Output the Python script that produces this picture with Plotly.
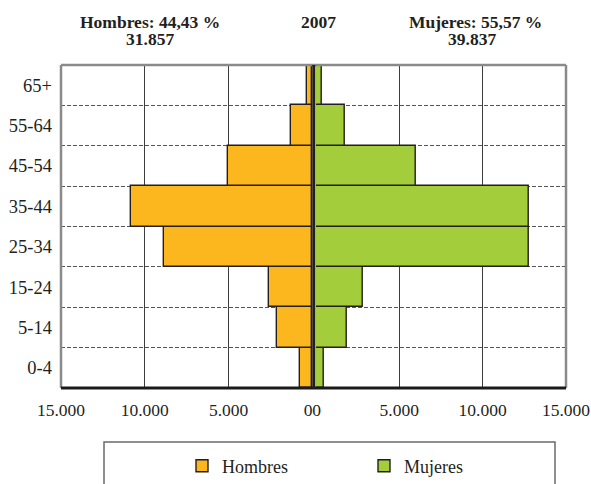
import plotly.graph_objects as go

ages = ["0-4", "5-14", "15-24", "25-34", "35-44", "45-54", "55-64", "65+"]
hombres = [720, 2110, 2590, 8850, 10800, 5060, 1300, 320]
mujeres = [470, 1850, 2840, 12790, 12790, 6020, 1760, 370]

x_tickvals = [0, 5000, 10000, 15000]
x_ticktext_left = ["0\u00a0\u00a0", "5.000", "10.000", "15.000"]
x_ticktext_right = ["\u200a0", "5.000", "10.000", "15.000"]

title_left = ["Hombres: 44,43 %", "31.857"]
title_mid = "2007"
title_right = ["Mujeres: 55,57 %", "39.837"]

C_H = "#FDB71E"
C_M = "#A3CD3A"
OUT = "#231F20"
FONT = "Liberation Serif"

W, H = 591, 484
ML, MR, MT, MB = 61, 25, 65, 96
PW = W - ML - MR
PH = H - MT - MB

def px_x(p):
    return (p - ML) / PW

def px_y(p):
    return (H - MB - p) / PH

ypos = list(range(len(ages)))

fig = go.Figure()
fig.add_trace(go.Bar(
    x=hombres, y=ypos, orientation="h", name="Hombres",
    marker=dict(color=C_H, line=dict(color=OUT, width=1.4)),
    xaxis="x", yaxis="y", width=1.0,
))
fig.add_trace(go.Bar(
    x=mujeres, y=ypos, orientation="h", name="Mujeres",
    marker=dict(color=C_M, line=dict(color=OUT, width=1.4)),
    xaxis="x2", yaxis="y", width=1.0,
))

d_left = px_x(312.4)
d_right = px_x(315.9)

common_x = dict(
    tickvals=x_tickvals, showgrid=True, gridcolor="#3c3c3c", gridwidth=1,
    zeroline=False, showline=False, ticks="",
    tickfont=dict(family=FONT, size=17.5, color="#231F20"),
    ticklabelstandoff=9, fixedrange=True, automargin=False,
)

fig.update_layout(
    width=W, height=H,
    margin=dict(l=ML, r=MR, t=MT, b=MB, pad=0, autoexpand=False),
    paper_bgcolor="white", plot_bgcolor="white",
    barmode="overlay", bargap=0,
    font=dict(family=FONT, size=17, color="#231F20"),
    xaxis=dict(domain=[0, d_left], range=[15000, 0], ticktext=x_ticktext_left,
               anchor="y", **common_x),
    xaxis2=dict(domain=[d_right, 1], range=[0, 15000], ticktext=x_ticktext_right,
                anchor="y", **common_x),
    yaxis=dict(
        range=[-0.5, len(ages) - 0.5], tickvals=ypos, ticktext=ages,
        showgrid=False, zeroline=False, showline=False, ticks="",
        ticklabelstandoff=8, anchor="x", automargin=False,
        tickfont=dict(family=FONT, size=18.5, color="#231F20"),
        minor=dict(tickvals=[i + 0.5 for i in ypos[:-1]], showgrid=True,
                   gridcolor="#555555", gridwidth=1, griddash="4px,2px", ticks=""),
        fixedrange=True,
    ),
    showlegend=True,
    legend=dict(
        orientation="h", x=px_x(182), xanchor="left", y=px_y(466), yanchor="middle",
        bgcolor="rgba(0,0,0,0)", borderwidth=0,
        font=dict(family=FONT, size=18, color="#231F20"),
        entrywidth=137, itemwidth=30,
    ),
)

shapes = [
    dict(type="line", xref="paper", yref="paper", x0=0, x1=1, y0=1, y1=1,
         line=dict(color="#8a8a8a", width=2.5), layer="above"),
    dict(type="line", xref="paper", yref="paper", x0=0, x1=0, y0=0, y1=1,
         line=dict(color="#8a8a8a", width=2.5), layer="above"),
    dict(type="line", xref="paper", yref="paper", x0=1, x1=1, y0=0, y1=1,
         line=dict(color="#8a8a8a", width=2.5), layer="above"),
    dict(type="line", xref="paper", yref="paper", x0=0, x1=1, y0=0, y1=0,
         line=dict(color="#1a1a1a", width=3), layer="above"),
    dict(type="line", xref="paper", yref="paper", x0=px_x(313.8), x1=px_x(313.8), y0=0, y1=1,
         line=dict(color="#231F20", width=3.2), layer="above"),
    dict(type="rect", xref="paper", yref="paper", x0=px_x(104), x1=px_x(555),
         y0=px_y(442), y1=px_y(500), line=dict(color="#6a6a6a", width=1.5),
         fillcolor="rgba(0,0,0,0)", layer="above"),
]
fig.update_layout(shapes=shapes)

ann = []
def add_title(text, cx, cy):
    ann.append(dict(text=f"<b>{text}</b>", xref="paper", yref="paper",
                    x=px_x(cx), y=px_y(cy), xanchor="center", yanchor="middle",
                    showarrow=False, font=dict(family=FONT, size=17.5, color="#231F20")))

add_title(title_left[0], 150, 22)
add_title(title_left[1], 150, 39)
add_title(title_mid, 318, 22)
add_title(title_right[0], 475, 22)
add_title(title_right[1], 472, 39)
fig.update_layout(annotations=ann)

fig.write_html(
    "out.html",
    config={"displayModeBar": False},
    post_script="document.body.style.margin='0';document.body.style.overflow='hidden';",
)
